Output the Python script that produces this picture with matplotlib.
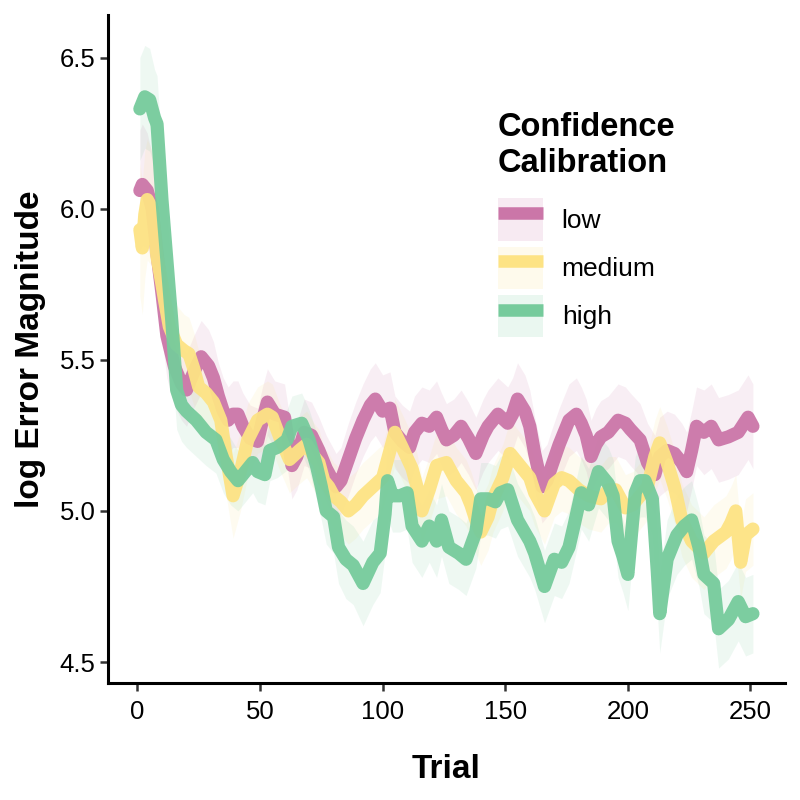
"""Error magnitude over trials, split by confidence calibration."""

import matplotlib
matplotlib.use("Agg")
import matplotlib.pyplot as plt
from matplotlib.lines import Line2D
from matplotlib.patches import Patch

plt.rcParams["font.family"] = ["Liberation Sans", "DejaVu Sans"]

# ---- data ------------------------------------------------------------------
low_trial = [1, 2, 4, 6, 8, 10, 12, 15, 18, 20,
             23, 26, 29, 31, 33, 35, 37, 39, 41, 43,
             46, 49, 51, 53, 56, 60, 63, 65, 68, 71,
             74, 77, 79, 81, 83, 86, 89, 92, 95, 97,
             100, 103, 105, 108, 111, 113, 116, 119, 122, 124,
             126, 129, 132, 135, 138, 141, 143, 147, 151, 153,
             155, 158, 160, 162, 165, 167, 169, 172, 176, 179,
             181, 183, 185, 187, 189, 192, 196, 199, 201, 205,
             208, 211, 213, 216, 219, 222, 224, 226, 228, 231,
             234, 237, 241, 245, 249, 251]
low_err = [6.06, 6.08, 6.06, 6.00, 5.85, 5.72, 5.58, 5.48, 5.42, 5.40,
           5.46, 5.51, 5.48, 5.44, 5.38, 5.33, 5.30, 5.32, 5.32, 5.28,
           5.24, 5.23, 5.30, 5.36, 5.32, 5.31, 5.15, 5.18, 5.26, 5.25,
           5.20, 5.14, 5.11, 5.08, 5.10, 5.17, 5.24, 5.30, 5.35, 5.37,
           5.33, 5.34, 5.26, 5.23, 5.21, 5.26, 5.29, 5.28, 5.31, 5.27,
           5.235, 5.25, 5.28, 5.24, 5.19, 5.25, 5.28, 5.32, 5.29, 5.32,
           5.37, 5.33, 5.28, 5.19, 5.08, 5.10, 5.15, 5.22, 5.30, 5.32,
           5.29, 5.25, 5.18, 5.22, 5.245, 5.26, 5.30, 5.29, 5.27, 5.235,
           5.16, 5.12, 5.18, 5.20, 5.19, 5.16, 5.13, 5.20, 5.28, 5.26,
           5.28, 5.235, 5.245, 5.26, 5.31, 5.28]
low_ci = [0.20, 0.20, 0.19, 0.18, 0.16, 0.15, 0.14, 0.13, 0.12, 0.12,
          0.12, 0.12, 0.12, 0.12, 0.11, 0.11, 0.11, 0.11, 0.11, 0.11,
          0.11, 0.11, 0.11, 0.11, 0.11, 0.11, 0.11, 0.11, 0.11, 0.11,
          0.11, 0.11, 0.11, 0.11, 0.11, 0.12, 0.12, 0.12, 0.12, 0.12,
          0.12, 0.12, 0.12, 0.12, 0.12, 0.12, 0.12, 0.12, 0.12, 0.12,
          0.12, 0.12, 0.12, 0.12, 0.12, 0.12, 0.12, 0.12, 0.12, 0.12,
          0.12, 0.12, 0.12, 0.12, 0.12, 0.12, 0.12, 0.12, 0.12, 0.12,
          0.12, 0.12, 0.12, 0.12, 0.12, 0.12, 0.12, 0.12, 0.12, 0.12,
          0.13, 0.13, 0.13, 0.13, 0.13, 0.13, 0.13, 0.13, 0.13, 0.14,
          0.14, 0.14, 0.14, 0.14, 0.14, 0.14]

medium_trial = [1, 2, 3, 4, 6, 8, 10, 11, 13, 16,
                19, 21, 23, 25, 28, 31, 34, 36, 39, 42,
                45, 49, 53, 55, 58, 62, 66, 69, 72, 74,
                76, 78, 80, 83, 86, 89, 92, 96, 100, 103,
                105, 108, 112, 114, 116, 119, 122, 126, 130, 134,
                136, 138, 140, 143, 145, 149, 152, 155, 158, 160,
                162, 166, 170, 173, 176, 180, 184, 189, 192, 195,
                199, 202, 204, 208, 211, 213, 216, 219, 222, 226,
                231, 235, 240, 242, 244, 246, 248, 251]
medium_err = [5.93, 5.87, 5.98, 6.03, 6.00, 5.84, 5.75, 5.70, 5.61, 5.55,
              5.53, 5.52, 5.47, 5.41, 5.39, 5.36, 5.30, 5.19, 5.05, 5.13,
              5.235, 5.30, 5.32, 5.31, 5.245, 5.17, 5.20, 5.22, 5.18, 5.16,
              5.10, 5.08, 5.05, 5.03, 5.00, 5.02, 5.05, 5.08, 5.11, 5.20,
              5.26, 5.21, 5.14, 5.08, 5.00, 5.07, 5.15, 5.16, 5.10, 5.06,
              5.02, 4.97, 4.93, 4.98, 5.04, 5.11, 5.19, 5.16, 5.13, 5.11,
              5.06, 5.00, 5.09, 5.11, 5.10, 5.07, 5.05, 5.04, 5.07, 5.07,
              5.01, 5.02, 5.04, 5.08, 5.18, 5.225, 5.16, 5.08, 4.97, 4.90,
              4.86, 4.90, 4.93, 4.96, 5.00, 4.83, 4.92, 4.94]
medium_ci = [0.22, 0.22, 0.21, 0.20, 0.19, 0.17, 0.16, 0.15, 0.14, 0.13,
             0.12, 0.12, 0.12, 0.12, 0.12, 0.12, 0.12, 0.13, 0.14, 0.13,
             0.12, 0.11, 0.11, 0.11, 0.11, 0.11, 0.11, 0.11, 0.11, 0.11,
             0.11, 0.11, 0.11, 0.11, 0.11, 0.11, 0.11, 0.11, 0.11, 0.11,
             0.11, 0.11, 0.11, 0.11, 0.11, 0.11, 0.11, 0.11, 0.11, 0.11,
             0.11, 0.11, 0.11, 0.11, 0.11, 0.11, 0.11, 0.11, 0.11, 0.11,
             0.11, 0.11, 0.11, 0.11, 0.11, 0.11, 0.11, 0.11, 0.11, 0.11,
             0.11, 0.11, 0.11, 0.11, 0.12, 0.12, 0.12, 0.12, 0.12, 0.12,
             0.12, 0.12, 0.12, 0.12, 0.12, 0.12, 0.12, 0.12]

high_trial = [1, 3, 5, 7, 8, 10, 12, 14, 16, 18,
              20, 24, 28, 32, 35, 38, 41, 44, 47, 49,
              52, 54, 57, 61, 63, 67, 70, 73, 75, 77,
              80, 82, 85, 88, 92, 96, 99, 101, 102, 104,
              107, 110, 112, 116, 119, 122, 124, 127, 131, 134,
              138, 140, 143, 146, 148, 151, 153, 155, 160, 162,
              166, 170, 173, 176, 178, 181, 184, 188, 192, 194,
              196, 198, 200, 203, 205, 207, 210, 212, 213, 216,
              220, 223, 226, 229, 231, 235, 237, 241, 245, 248,
              251]
high_err = [6.33, 6.37, 6.36, 6.30, 6.28, 6.03, 5.83, 5.63, 5.40, 5.35,
            5.33, 5.30, 5.26, 5.235, 5.17, 5.13, 5.10, 5.13, 5.16, 5.13,
            5.12, 5.20, 5.21, 5.235, 5.28, 5.29, 5.235, 5.15, 5.08, 5.00,
            4.98, 4.88, 4.84, 4.82, 4.76, 4.83, 4.86, 4.99, 5.10, 5.05,
            5.05, 5.06, 4.95, 4.90, 4.95, 4.90, 4.97, 4.88, 4.86, 4.84,
            4.93, 5.04, 5.04, 5.03, 5.06, 5.07, 5.02, 4.97, 4.90, 4.86,
            4.75, 4.84, 4.83, 4.88, 4.95, 5.06, 5.02, 5.13, 5.09, 5.05,
            4.90, 4.85, 4.79, 5.06, 5.10, 5.10, 5.04, 4.80, 4.66, 4.84,
            4.92, 4.95, 4.97, 4.88, 4.79, 4.76, 4.61, 4.64, 4.70, 4.65,
            4.66]
high_ci = [0.17, 0.17, 0.17, 0.16, 0.16, 0.15, 0.15, 0.14, 0.13, 0.12,
           0.12, 0.12, 0.11, 0.11, 0.11, 0.11, 0.10, 0.10, 0.10, 0.10,
           0.10, 0.10, 0.10, 0.10, 0.10, 0.10, 0.10, 0.11, 0.11, 0.11,
           0.12, 0.12, 0.13, 0.13, 0.14, 0.14, 0.13, 0.13, 0.12, 0.12,
           0.12, 0.12, 0.12, 0.12, 0.12, 0.12, 0.12, 0.12, 0.12, 0.12,
           0.12, 0.12, 0.12, 0.12, 0.12, 0.12, 0.12, 0.12, 0.12, 0.12,
           0.12, 0.12, 0.12, 0.12, 0.12, 0.12, 0.12, 0.12, 0.12, 0.12,
           0.12, 0.12, 0.12, 0.12, 0.12, 0.12, 0.12, 0.13, 0.13, 0.13,
           0.13, 0.13, 0.13, 0.13, 0.13, 0.13, 0.13, 0.13, 0.13, 0.13,
           0.13]

labels = ["low", "medium", "high"]
colors = ["#CB76A8", "#FDE384", "#76CB9C"]
x_ticks = [0, 50, 100, 150, 200, 250]
y_ticks = [4.5, 5.0, 5.5, 6.0, 6.5]

series = [(low_trial, low_err, low_ci),
          (medium_trial, medium_err, medium_ci),
          (high_trial, high_err, high_ci)]

# ---- plot ------------------------------------------------------------------
fig = plt.figure(figsize=(8, 8), dpi=100)
ax = fig.add_axes([0.135, 0.146, 0.846, 0.835])

for (t, y, ci), col in zip(series, colors):
    assert len(t) == len(y) == len(ci)
    lo = [v - c for v, c in zip(y, ci)]
    hi = [v + c for v, c in zip(y, ci)]
    ax.fill_between(t, lo, hi, color=col, alpha=0.12, lw=0)

for (t, y, ci), col in zip(series, colors):
    ax.plot(t, y, color=col, lw=9.5, solid_capstyle="round",
            solid_joinstyle="round", alpha=0.95)

ax.set_xlim(-12, 264)
ax.set_ylim(4.43, 6.64)
ax.set_xticks(x_ticks)
ax.set_yticks(y_ticks)
ax.set_yticklabels([f"{v:.1f}" for v in y_ticks])
ax.tick_params(labelsize=18.5, length=6, width=1.8, color="#333333",
               labelcolor="black")
ax.tick_params(axis="x", pad=6)
ax.tick_params(axis="y", pad=3)

for side in ("top", "right"):
    ax.spines[side].set_visible(False)
for side in ("left", "bottom"):
    ax.spines[side].set_linewidth(2.2)
    ax.spines[side].set_color("black")

ax.set_xlabel("Trial", fontsize=24, fontweight="bold", labelpad=22)
ax.set_ylabel("log Error Magnitude", fontsize=24, fontweight="bold", labelpad=10)

handles = [(Patch(facecolor=c, alpha=0.15, edgecolor="none"),
            Line2D([], [], color=c, lw=9, solid_capstyle="butt")) for c in colors]
leg = ax.legend(handles, labels, title="Confidence\nCalibration",
                loc="upper left", bbox_to_anchor=(0.576, 0.855),
                frameon=False, fontsize=19, title_fontsize=23.5,
                handlelength=1.7, handleheight=2.1, labelspacing=0.22,
                handletextpad=0.72, borderaxespad=0, borderpad=0)
leg.get_title().set_fontweight("bold")
leg._legend_box.align = "left"
leg._legend_box.sep = 14

fig.savefig("out.png", dpi=100)
